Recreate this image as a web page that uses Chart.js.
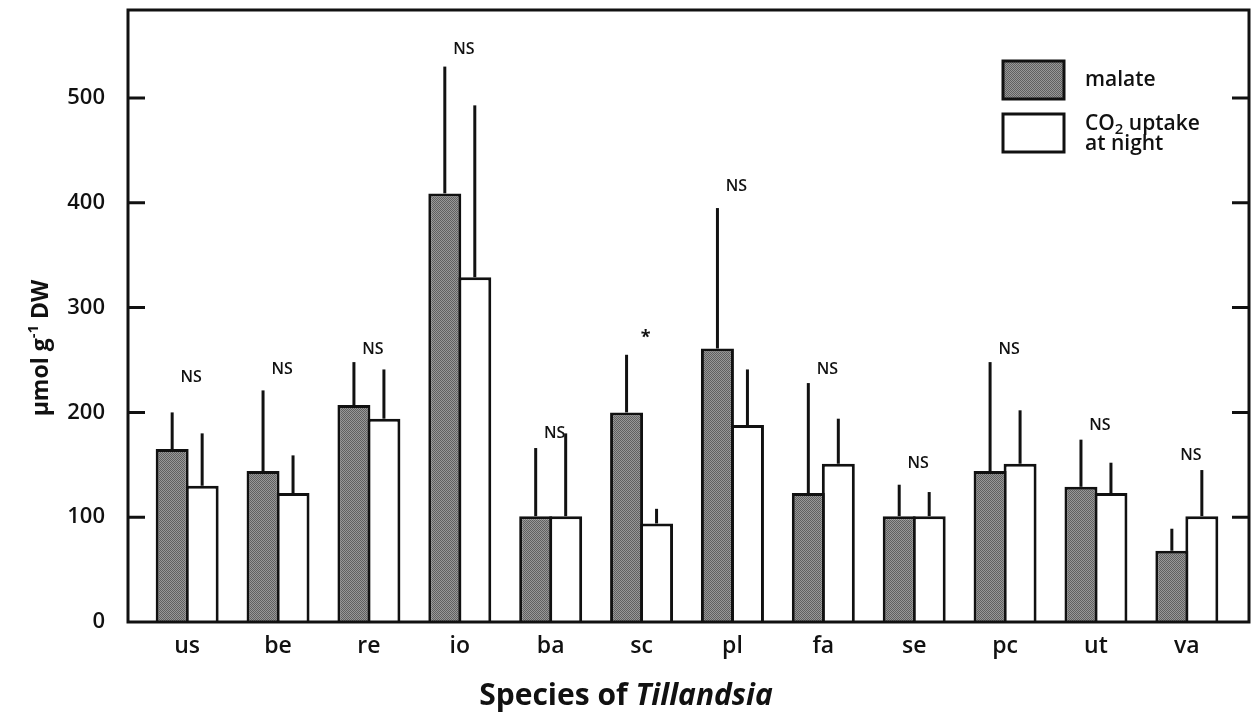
<!DOCTYPE html>
<html>
<head>
<meta charset="utf-8">
<script src="https://cdn.jsdelivr.net/npm/chart.js@4/dist/chart.umd.min.js"></script>
<style>
html,body{margin:0;padding:0;background:#fff;}
canvas{display:block;}
</style>
</head>
<body>
<canvas id="c" width="1254" height="712"></canvas>
<script>
// ---- data ----
const categories = ['us','be','re','io','ba','sc','pl','fa','se','pc','ut','va'];
const malate     = [165, 144, 207, 409, 101, 200, 261, 123, 101, 144, 129, 68];
const malateSD   = [ 35,  77,  41, 121,  65,  55, 134, 105,  30, 104,  45, 21];
const co2Night   = [130, 123, 194, 329, 101,  94, 188, 151, 101, 151, 123, 101];
const co2SD      = [ 50,  36,  47, 164,  79,  14,  53,  43,  23,  51,  29, 44];
const sigLabels  = ['NS','NS','NS','NS','NS','*','NS','NS','NS','NS','NS','NS'];
const sigHeights = [233, 241, 260, 546, 180, 271, 416, 241, 151, 260, 188, 159];
const yTicks     = [0, 100, 200, 300, 400, 500];
const seriesNames = ['malate', 'CO2 uptake at night'];

const FONT = "'Open Sans', 'Noto Sans', sans-serif";
const canvas = document.getElementById('c');
const ctx = canvas.getContext('2d');

function makePattern() {
  const t = document.createElement('canvas');
  t.width = 2; t.height = 2;
  const g = t.getContext('2d');
  g.fillStyle = '#989898'; g.fillRect(0, 0, 2, 2);
  g.fillStyle = '#606060'; g.fillRect(0, 0, 1, 1); g.fillRect(1, 1, 1, 1);
  return ctx.createPattern(t, 'repeat');
}
const stipple = makePattern();

const decor = {
  id: 'decor',
  afterDatasetsDraw(chart) {
    const c = chart.ctx, a = chart.chartArea;
    const ys = chart.scales.y, xs = chart.scales.x;
    c.save();
    c.strokeStyle = '#111'; c.lineWidth = 3; c.lineCap = 'butt';
    // error bars (upward only)
    [[malate, malateSD], [co2Night, co2SD]].forEach((pair, d) => {
      const meta = chart.getDatasetMeta(d);
      meta.data.forEach((el, i) => {
        c.beginPath();
        c.moveTo(el.x, ys.getPixelForValue(pair[0][i]));
        c.lineTo(el.x, ys.getPixelForValue(pair[0][i] + pair[1][i]));
        c.stroke();
      });
    });
    // frame
    c.strokeRect(a.left, a.top, a.right - a.left, a.bottom - a.top);
    // inward ticks both sides
    yTicks.forEach(v => {
      if (v === 0) return;
      const y = ys.getPixelForValue(v);
      c.beginPath();
      c.moveTo(a.left, y); c.lineTo(a.left + 17, y);
      c.moveTo(a.right, y); c.lineTo(a.right - 17, y);
      c.stroke();
    });
    // significance labels
    c.fillStyle = '#111';
    c.textAlign = 'center'; c.textBaseline = 'middle';
    categories.forEach((cat, i) => {
      const x = xs.getPixelForValue(i) + 4;
      const y = ys.getPixelForValue(sigHeights[i]);
      c.font = (sigLabels[i] === '*' ? 'bold 18px ' : '600 16px ') + FONT;
      c.fillText(sigLabels[i], x, y);
    });
    // legend
    const lx = 1003, bw = 61, bh = 38;
    c.fillStyle = stipple; c.fillRect(lx, 61, bw, bh);
    c.strokeRect(lx, 61, bw, bh);
    c.fillStyle = '#fff'; c.fillRect(lx, 114, bw, bh);
    c.strokeRect(lx, 114, bw, bh);
    c.fillStyle = '#111'; c.textAlign = 'left'; c.textBaseline = 'alphabetic';
    c.font = '600 21px ' + FONT;
    c.fillText(seriesNames[0], 1085, 86);
    let tx = 1085;
    c.fillText('CO', tx, 130); tx += c.measureText('CO').width;
    c.font = '600 15px ' + FONT;
    c.fillText('2', tx, 134); tx += c.measureText('2').width;
    c.font = '600 21px ' + FONT;
    c.fillText(' uptake', tx, 130);
    c.fillText('at night', 1085, 150);
    // x axis title
    c.font = 'bold 30px ' + FONT;
    const p1 = 'Species of ';
    const w1 = c.measureText(p1).width;
    c.font = 'italic bold 30px ' + FONT;
    const w2 = c.measureText('Tillandsia').width;
    let sx = 626 - (w1 + w2) / 2;
    c.font = 'bold 30px ' + FONT;
    c.fillText(p1, sx, 705);
    c.font = 'italic bold 30px ' + FONT;
    c.fillText('Tillandsia', sx + w1, 705);
    // y axis title
    c.translate(48, 348); c.rotate(-Math.PI / 2);
    c.font = 'bold 23px ' + FONT;
    const a1 = '\u03bcmol g', a3 = ' DW';
    const wa1 = c.measureText(a1).width, wa3 = c.measureText(a3).width;
    c.font = 'bold 15px ' + FONT;
    const wa2 = c.measureText('-1').width;
    let ty = -(wa1 + wa2 + wa3) / 2;
    c.font = 'bold 23px ' + FONT;
    c.fillText(a1, ty, 0); ty += wa1;
    c.font = 'bold 15px ' + FONT;
    c.fillText('-1', ty, -10); ty += wa2;
    c.font = 'bold 23px ' + FONT;
    c.fillText(a3, ty, 0);
    c.restore();
  }
};

new Chart(ctx, {
  type: 'bar',
  data: {
    datasets: [
      {
        label: seriesNames[0],
        data: malate.map((v, i) => ({x: i, y: v})),
        backgroundColor: stipple,
        borderColor: '#111',
        borderWidth: 3,
        borderSkipped: 'start'
      },
      {
        label: seriesNames[1],
        data: co2Night.map((v, i) => ({x: i, y: v})),
        backgroundColor: '#ffffff',
        borderColor: '#111',
        borderWidth: 3,
        borderSkipped: 'start'
      }
    ]
  },
  options: {
    responsive: false,
    devicePixelRatio: 1,
    animation: false,
    events: [],
    layout: { padding: { top: 10, right: 5, left: 0, bottom: 0 } },
    datasets: { bar: { categoryPercentage: 0.66, barPercentage: 1.1 } },
    plugins: { legend: { display: false }, tooltip: { enabled: false } },
    scales: {
      x: {
        type: 'linear',
        offset: false,
        min: -0.651,
        max: 11.684,
        grid: { display: false, offset: false },
        border: { display: false },
        afterBuildTicks: s => { s.ticks = categories.map((c, i) => ({ value: i })); },
        afterFit: s => { s.height = 90; s.paddingLeft = 0; s.paddingRight = 0; },
        ticks: {
          autoSkip: false, maxRotation: 0, padding: 3,
          color: '#111',
          font: { family: FONT, size: 23, weight: 600 },
          callback: v => categories[v]
        }
      },
      y: {
        min: 0,
        max: 584,
        grid: { display: false },
        border: { display: false },
        afterBuildTicks: s => { s.ticks = yTicks.map(v => ({ value: v })); },
        afterFit: s => { s.width = 128; s.paddingTop = 0; s.paddingBottom = 0; },
        ticks: {
          padding: 15,
          color: '#111',
          font: { family: FONT, size: 22, weight: 600 }
        }
      }
    }
  },
  plugins: [decor]
});
</script>
</body>
</html>
